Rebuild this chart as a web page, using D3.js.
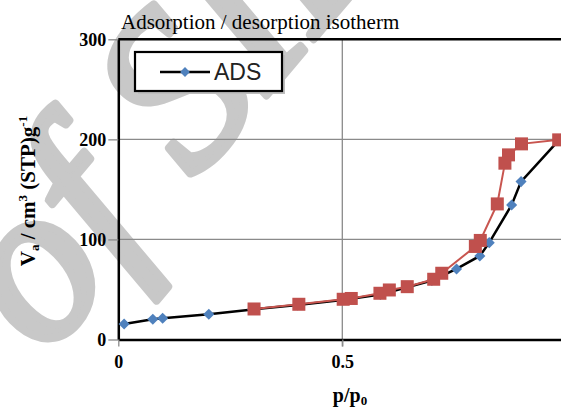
<!DOCTYPE html>
<html>
<head>
<meta charset="utf-8">
<title>Adsorption / desorption isotherm</title>
<script src="https://d3js.org/d3.v7.min.js"></script>
<style>
  body { margin: 0; background: #fff; }
  svg { display: block; }
</style>
</head>
<body>
<script>
// ADS (adsorption) branch, p/p0 and volume
const adsX = [0.013, 0.077, 0.099, 0.202, 0.30, 0.40, 0.50, 0.585, 0.70, 0.755, 0.807, 0.828, 0.878, 0.899, 0.983];
const adsY = [15.5, 20.2, 21.2, 25.2, 30.0, 34.5, 39.5, 45.0, 59.0, 70.5, 83.5, 96.8, 134.5, 157.8, 199.0];
// DES (desorption) branch
const desX = [0.983, 0.900, 0.871, 0.863, 0.846, 0.808, 0.797, 0.722, 0.704, 0.645, 0.605, 0.584, 0.520, 0.502, 0.403, 0.303];
const desY = [199.5, 195.5, 184.5, 176.2, 135.5, 99.0, 93.0, 66.2, 60.2, 52.8, 49.5, 46.2, 41.0, 40.2, 35.2, 30.5];
const xTicks = [0, 0.5];
const yTicks = [0, 100, 200, 300];
const legendLabels = ["ADS"];

const W = 561, H = 412;
const svg = d3.select("body").append("svg")
    .attr("width", W)
    .attr("height", H)
    .style("background", "#fff");

// watermark behind the chart
svg.append("text")
    .attr("transform", "translate(46,358) rotate(-50)")
    .attr("font-family", "Liberation Serif")
    .attr("font-style", "italic")
    .attr("font-size", 225)
    .attr("fill", "#c8c8c8")
    .attr("stroke", "#c8c8c8")
    .attr("stroke-width", 8)
    .attr("stroke-linejoin", "round")
    .text("of SID");

const x = d3.scaleLinear().domain([0, 1]).range([118.3, 566.3]);
const y = d3.scaleLinear().domain([0, 300]).range([339.5, 39.3]);

// grid
svg.append("g").selectAll("line")
    .data(yTicks.filter(d => d > 0 && d < 300)).join("line")
    .attr("x1", x(0)).attr("x2", W)
    .attr("y1", d => y(d)).attr("y2", d => y(d))
    .attr("stroke", "#8a8a8a").attr("stroke-width", 1.3);
svg.append("g").selectAll("line")
    .data(xTicks.filter(d => d > 0)).join("line")
    .attr("x1", d => x(d)).attr("x2", d => x(d))
    .attr("y1", y(300)).attr("y2", y(0) + 7)
    .attr("stroke", "#8a8a8a").attr("stroke-width", 1.3);

// y axis
const yAxis = svg.append("g")
    .attr("transform", `translate(${x(0)},0)`)
    .call(d3.axisLeft(y).tickValues(yTicks).tickSize(10).tickPadding(2).tickSizeOuter(0));
yAxis.select(".domain").attr("stroke", "#000").attr("stroke-width", 2.5);
yAxis.selectAll(".tick line").attr("stroke", "#8a8a8a").attr("stroke-width", 1.3);
yAxis.selectAll(".tick text")
    .attr("font-family", "Liberation Serif").attr("font-weight", "bold")
    .attr("font-size", 18).attr("fill", "#000");

// x axis
const xAxis = svg.append("g")
    .attr("transform", `translate(0,${y(0)})`)
    .call(d3.axisBottom(x).tickValues(xTicks).tickFormat(d3.format("")).tickSize(7).tickPadding(9).tickSizeOuter(0));
xAxis.select(".domain").attr("stroke", "#000").attr("stroke-width", 2.5);
xAxis.selectAll(".tick line").attr("stroke", "#8a8a8a").attr("stroke-width", 1.3);
xAxis.selectAll(".tick text")
    .attr("font-family", "Liberation Serif").attr("font-weight", "bold")
    .attr("font-size", 18).attr("fill", "#000");

// top border
svg.append("line")
    .attr("x1", x(0)).attr("x2", W)
    .attr("y1", y(300)).attr("y2", y(300))
    .attr("stroke", "#000").attr("stroke-width", 2.5);

// series
const ads = adsX.map((d, i) => [d, adsY[i]]);
const des = desX.map((d, i) => [d, desY[i]]);
const line = d3.line().x(d => x(d[0])).y(d => y(d[1]));

svg.append("path").datum(ads)
    .attr("d", line).attr("fill", "none")
    .attr("stroke", "#000").attr("stroke-width", 2.5);
svg.append("g").selectAll("path")
    .data(ads).join("path")
    .attr("d", d3.symbol(d3.symbolDiamond2, 78))
    .attr("transform", d => `translate(${x(d[0])},${y(d[1])})`)
    .attr("fill", "#4f81bd");

svg.append("path").datum(des)
    .attr("d", line).attr("fill", "none")
    .attr("stroke", "#c8554f").attr("stroke-width", 2);
svg.append("g").selectAll("rect")
    .data(des).join("rect")
    .attr("x", d => x(d[0]) - 6.5).attr("y", d => y(d[1]) - 6.5)
    .attr("width", 13).attr("height", 13)
    .attr("fill", "#c0504d");

// legend
const lg = svg.append("g");
lg.append("rect")
    .attr("x", 138).attr("y", 55).attr("width", 147).attr("height", 39)
    .attr("fill", "#bdbdbd");
lg.append("rect")
    .attr("x", 135).attr("y", 52).attr("width", 147).attr("height", 39)
    .attr("fill", "#fff").attr("stroke", "#000").attr("stroke-width", 2.2);
lg.append("line")
    .attr("x1", 160).attr("x2", 210).attr("y1", 72).attr("y2", 72)
    .attr("stroke", "#000").attr("stroke-width", 2.5);
lg.append("path")
    .attr("d", d3.symbol(d3.symbolDiamond2, 62))
    .attr("transform", "translate(185,72)")
    .attr("fill", "#4f81bd");
lg.append("text")
    .attr("x", 214).attr("y", 80)
    .attr("font-family", "Liberation Sans")
    .attr("font-size", 23).attr("fill", "#222")
    .text(legendLabels[0]);

// title
svg.append("text")
    .attr("x", 121).attr("y", 29)
    .attr("font-family", "Liberation Serif")
    .attr("font-size", 21).attr("fill", "#000")
    .text("Adsorption / desorption isotherm");

// x axis title
const xt = svg.append("text")
    .attr("x", 350).attr("y", 402)
    .attr("text-anchor", "middle")
    .attr("font-family", "Liberation Serif").attr("font-weight", "bold")
    .attr("font-size", 20).attr("fill", "#000");
xt.append("tspan").text("p/p");
xt.append("tspan").attr("font-size", 13).attr("dy", 3).text("0");

// y axis title
const yt = svg.append("text")
    .attr("transform", "translate(35,191) rotate(-90)")
    .attr("text-anchor", "middle")
    .attr("font-family", "Liberation Serif").attr("font-weight", "bold")
    .attr("font-size", 21).attr("fill", "#000");
yt.append("tspan").text("V");
yt.append("tspan").attr("font-size", 13).attr("dy", 4).text("a");
yt.append("tspan").attr("dy", -4).text(" / cm");
yt.append("tspan").attr("font-size", 13).attr("dy", -8).text("3");
yt.append("tspan").attr("dy", 8).text(" (STP)g");
yt.append("tspan").attr("font-size", 13).attr("dy", -8).text("-1");
</script>
</body>
</html>
